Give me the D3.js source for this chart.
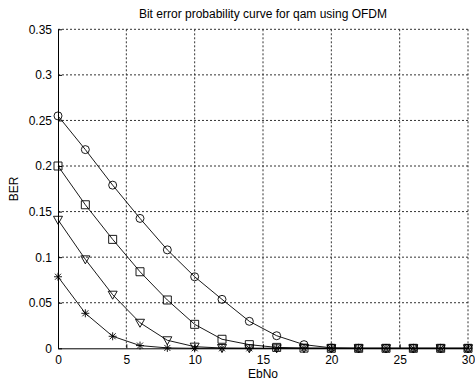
<!DOCTYPE html>
<html>
<head>
<meta charset="utf-8">
<script src="https://cdn.jsdelivr.net/npm/d3@7"></script>
<style>
  body { margin: 0; background: #fff; }
  svg text { font-family: "Liberation Sans", Arial, sans-serif; font-size: 12px; fill: #000; }
</style>
</head>
<body>
<script>
// EbNo values and BER for each curve
const ebno = [0, 2, 4, 6, 8, 10, 12, 14, 16, 18, 20, 22, 24, 26, 28, 30];
const berCircle = [0.255, 0.218, 0.179, 0.1425, 0.108, 0.0785, 0.0537, 0.0296, 0.0138, 0.004, 0.0005, 0, 0, 0, 0, 0];
const berSquare = [0.2, 0.1575, 0.1195, 0.084, 0.053, 0.0263, 0.0099, 0.004, 0.001, 0.0002, 0, 0, 0, 0, 0, 0];
const berTriangle = [0.141, 0.0976, 0.0588, 0.028, 0.0088, 0.0018, 0.0003, 0, 0, 0, 0, 0, 0, 0, 0, 0];
const berStar = [0.0785, 0.0384, 0.0132, 0.003, 0.0004, 0, 0, 0, 0, 0, 0, 0, 0, 0, 0, 0];

const xTicks = [0, 5, 10, 15, 20, 25, 30];
const yTicks = [0, 0.05, 0.1, 0.15, 0.2, 0.25, 0.3, 0.35];

const width = 475, height = 381;
const plotLeft = 58, plotRight = 468, plotTop = 29.3, plotBottom = 348.3;

const svg = d3.select("body").append("svg")
    .attr("width", width)
    .attr("height", height);

const x = d3.scaleLinear().domain([0, 30]).range([plotLeft, plotRight]);
const y = d3.scaleLinear().domain([0, 0.35]).range([plotBottom, plotTop]);

/** dotted grid */
svg.append("g").selectAll("line")
    .data(xTicks.slice(1))
    .enter().append("line")
    .attr("x1", d => x(d)).attr("x2", d => x(d))
    .attr("y1", plotTop).attr("y2", plotBottom)
    .attr("stroke", "#333").attr("stroke-dasharray", "2,2");

svg.append("g").selectAll("line")
    .data(yTicks.slice(1))
    .enter().append("line")
    .attr("x1", plotLeft).attr("x2", plotRight)
    .attr("y1", d => y(d)).attr("y2", d => y(d))
    .attr("stroke", "#333").attr("stroke-dasharray", "2,2");

/** axes, ticks point inward like matlab */
const xAxis = svg.append("g")
    .attr("transform", `translate(0,${plotBottom})`)
    .call(d3.axisBottom(x).tickValues(xTicks).tickSizeInner(-4).tickSizeOuter(0).tickPadding(7));
const yAxis = svg.append("g")
    .attr("transform", `translate(${plotLeft},0)`)
    .call(d3.axisLeft(y).tickValues(yTicks).tickSizeInner(-4).tickSizeOuter(0).tickPadding(6)
        .tickFormat(d => d3.format("~g")(+d.toFixed(2))));
[xAxis, yAxis].forEach(a => {
    a.select(".domain").attr("stroke", "#000");
    a.selectAll(".tick line").attr("stroke", "#000");
    a.selectAll("text").attr("font-size", 11).attr("font-family", "Liberation Sans, Arial, sans-serif");
});

/** titles */
svg.append("text")
    .attr("x", (plotLeft + plotRight) / 2).attr("y", 17.5)
    .attr("text-anchor", "middle")
    .attr("font-size", 11.8)
    .text("Bit error probability curve for qam using OFDM");
svg.append("text")
    .attr("x", (plotLeft + plotRight) / 2).attr("y", 378)
    .attr("text-anchor", "middle")
    .text("EbNo");
svg.append("text")
    .attr("transform", `translate(17.5,${(plotTop + plotBottom) / 2}) rotate(-90)`)
    .attr("text-anchor", "middle")
    .text("BER");

/** curves */
const series = [
    { values: berCircle, marker: "circle" },
    { values: berSquare, marker: "square" },
    { values: berTriangle, marker: "triangle" },
    { values: berStar, marker: "star" }
];

const line = d3.line().x(d => x(d[0])).y(d => y(d[1]));

const markerPath = {
    circle: "M4,0A4,4 0 1,1 -4,0A4,4 0 1,1 4,0Z",
    square: "M-4,-4H4V4H-4Z",
    triangle: "M-4.5,-3.5H4.5L0,4.5Z",
    star: "M-4,0H4M0,-4V4M-3,-3L3,3M-3,3L3,-3"
};

for (let s of series) {
    let pts = ebno.map((e, i) => [e, s.values[i]]);
    let g = svg.append("g");
    g.append("path")
        .attr("d", line(pts))
        .attr("fill", "none")
        .attr("stroke", "#000")
        .attr("stroke-width", 0.9);
    g.selectAll("path.mk")
        .data(pts)
        .enter().append("path")
        .attr("class", "mk")
        .attr("transform", d => `translate(${x(d[0])},${y(d[1])})`)
        .attr("d", markerPath[s.marker])
        .attr("fill", "none")
        .attr("stroke", "#000")
        .attr("stroke-width", 0.9);
}
</script>
</body>
</html>
